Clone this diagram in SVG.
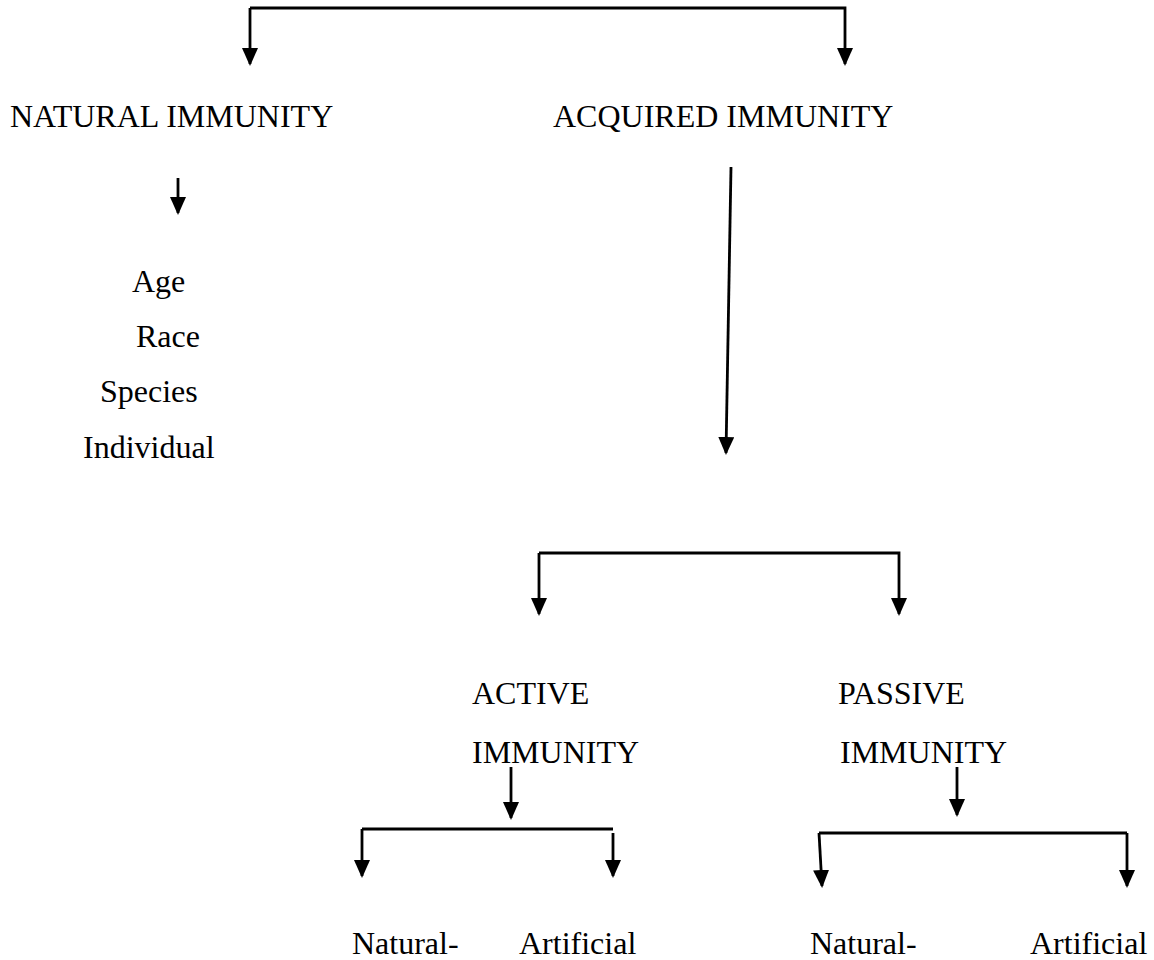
<svg xmlns="http://www.w3.org/2000/svg" width="1154" height="960" viewBox="0 0 1154 960" font-family="Liberation Serif, serif">
<style>
text{font-family:"Liberation Serif",serif;font-size:32px;fill:#000}
.c{fill:none;stroke:#000;stroke-width:2.8}
</style>
<defs>
<marker id="ah" viewBox="0 0 18 16" refX="16" refY="8" markerWidth="18" markerHeight="16" markerUnits="userSpaceOnUse" orient="auto">
<path d="M0,0 L18,8 L0,16 z" fill="#000"/>
</marker>
</defs>
<rect width="1154" height="960" fill="#fff"/>
<g id="connectors">
<path class="c" d="M250,8 H845 V64" marker-end="url(#ah)"/>
<path class="c" d="M250,8 V64" marker-end="url(#ah)"/>
<path class="c" d="M178,178 V213" marker-end="url(#ah)"/>
<path class="c" d="M731,167 L726,453" marker-end="url(#ah)"/>
<path class="c" d="M539,553 H899 V614" marker-end="url(#ah)"/>
<path class="c" d="M539,553 V614" marker-end="url(#ah)"/>
<path class="c" d="M511,767 V818" marker-end="url(#ah)"/>
<path class="c" d="M362,829 H613"/>
<path class="c" d="M362,829 V876" marker-end="url(#ah)"/>
<path class="c" d="M613,833 V876" marker-end="url(#ah)"/>
<path class="c" d="M957,767 V815" marker-end="url(#ah)"/>
<path class="c" d="M819,833 H1127"/>
<path class="c" d="M819,833 L822,886" marker-end="url(#ah)"/>
<path class="c" d="M1127,833 V886" marker-end="url(#ah)"/>
</g>
<g id="natural"><text x="10" y="127" font-family="Liberation Serif">NATURAL IMMUNITY</text></g>
<g id="acquired"><text x="553" y="127">ACQUIRED IMMUNITY</text></g>
<g id="factors">
<text x="132" y="292">Age</text>
<text x="136" y="347">Race</text>
<text x="100" y="402">Species</text>
<text x="83" y="458">Individual</text>
</g>
<g id="active"><text x="472" y="704">ACTIVE</text><text x="472" y="763">IMMUNITY</text></g>
<g id="passive"><text x="838" y="704">PASSIVE</text><text x="840" y="763">IMMUNITY</text></g>
<g id="active-natural"><text x="352" y="954">Natural-</text></g>
<g id="active-artificial"><text x="519" y="954">Artificial</text></g>
<g id="passive-natural"><text x="810" y="954">Natural-</text></g>
<g id="passive-artificial"><text x="1030" y="954">Artificial</text></g>
</svg>
